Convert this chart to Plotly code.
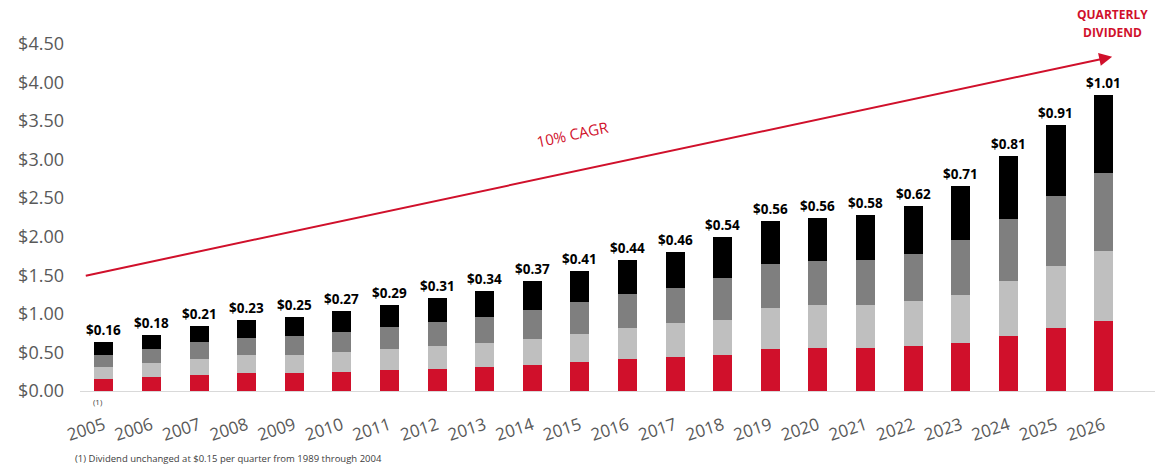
import plotly.graph_objects as go

years = ["2005", "2006", "2007", "2008", "2009", "2010", "2011", "2012", "2013", "2014", "2015",
         "2016", "2017", "2018", "2019", "2020", "2021", "2022", "2023", "2024", "2025", "2026"]
q1 = [0.15, 0.18, 0.21, 0.23, 0.23, 0.25, 0.27, 0.29, 0.31, 0.34, 0.37,
      0.41, 0.44, 0.46, 0.54, 0.56, 0.56, 0.58, 0.62, 0.71, 0.81, 0.91]
q2 = [0.16, 0.18, 0.21, 0.23, 0.23, 0.25, 0.27, 0.29, 0.31, 0.34, 0.37,
      0.41, 0.44, 0.46, 0.54, 0.56, 0.56, 0.58, 0.62, 0.71, 0.81, 0.91]
q3 = [0.16, 0.18, 0.21, 0.23, 0.25, 0.27, 0.29, 0.31, 0.34, 0.37, 0.41,
      0.44, 0.46, 0.54, 0.56, 0.56, 0.58, 0.62, 0.71, 0.81, 0.91, 1.01]
q4 = [0.16, 0.18, 0.21, 0.23, 0.25, 0.27, 0.29, 0.31, 0.34, 0.37, 0.41,
      0.44, 0.46, 0.54, 0.56, 0.56, 0.58, 0.62, 0.71, 0.81, 0.91, 1.01]
y_ticks = [0, 0.5, 1.0, 1.5, 2.0, 2.5, 3.0, 3.5, 4.0, 4.5]

RED = "#D0102B"
colors = [RED, "#BFBFBF", "#7F7F7F", "#000000"]
FONT = "Open Sans"

fig = go.Figure()
for name, vals, c in zip(["Q1", "Q2", "Q3", "Q4"], [q1, q2, q3, q4], colors):
    fig.add_trace(go.Bar(x=years, y=vals, name=name, marker=dict(color=c, line=dict(width=0)),
                         hoverinfo="skip"))

totals = [a + b + c + d for a, b, c, d in zip(q1, q2, q3, q4)]
annotations = []
for i, (t, lab) in enumerate(zip(totals, q4)):
    annotations.append(dict(x=i, y=t, xref="x", yref="y", text=f"<b>${lab:.2f}</b>",
                            showarrow=False, yanchor="middle", yshift=12,
                            font=dict(family=FONT, size=13.5, color="#000000")))

# CAGR arrow
annotations.append(dict(x=21.18, y=4.33, ax=-0.41, ay=1.49, xref="x", yref="y",
                        axref="x", ayref="y", text="", showarrow=True,
                        arrowhead=2, arrowsize=1.3, arrowwidth=2, arrowcolor=RED, standoff=0))
annotations.append(dict(x=9.85, y=3.33, xref="x", yref="y", text="10% CAGR", showarrow=False,
                        textangle=-12, font=dict(family=FONT, size=15, color=RED)))
annotations.append(dict(x=21.18, y=(391 - 14) / 77.2, xref="x", yref="y", text="<b>QUARTERLY</b>",
                        showarrow=False, font=dict(family=FONT, size=12, color=RED)))
annotations.append(dict(x=21.18, y=(391 - 32) / 77.2, xref="x", yref="y", text="<b>DIVIDEND</b>",
                        showarrow=False, font=dict(family=FONT, size=12, color=RED)))
annotations.append(dict(x=0, y=0, xref="x", yref="y", text="(1)", showarrow=False,
                        xshift=-6, yshift=-10, yanchor="middle",
                        font=dict(family=FONT, size=8, color="#404040")))
annotations.append(dict(x=0, y=0, xref="paper", yref="paper", xanchor="left", yanchor="middle",
                        xshift=-7, yshift=-67, showarrow=False,
                        text="(1) Dividend unchanged at $0.15 per quarter from 1989 through 2004",
                        font=dict(family=FONT, size=9.5, color="#404040")))

fig.update_layout(
    width=1155, height=470,
    margin=dict(l=80, r=0, t=5, b=79),
    barmode="stack", bargap=0.6,
    plot_bgcolor="white", paper_bgcolor="white",
    showlegend=False,
    annotations=annotations,
    xaxis=dict(type="category", range=[-0.5, 22.08], showline=True, linecolor="#D9D9D9",
               linewidth=1, showgrid=False, zeroline=False, ticks="", tickangle=-18,
               ticklabelstandoff=17,
               tickfont=dict(family=FONT, size=17, color="#595959")),
    yaxis=dict(range=[0, 5.0], tickvals=y_ticks, ticktext=[f"${v:.2f}" for v in y_ticks],
               showgrid=False, zeroline=False, showline=False, ticks="",
               ticklabelstandoff=15,
               tickfont=dict(family=FONT, size=18, color="#595959")),
)

fig.write_html("out.html")
